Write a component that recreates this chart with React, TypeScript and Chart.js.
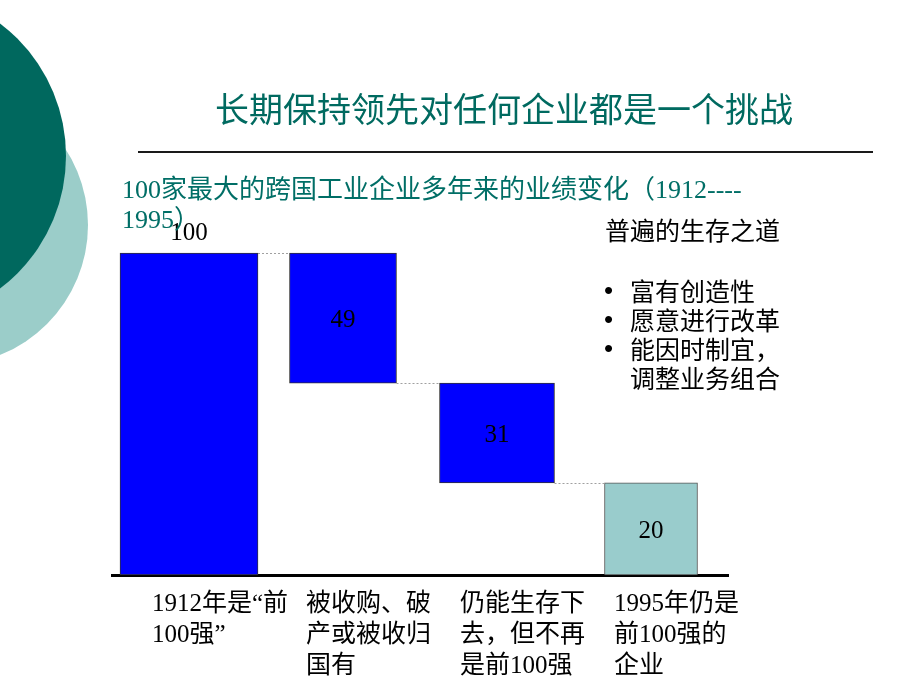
import React, { useEffect, useRef } from 'react';
import { Chart, registerables } from 'chart.js';

Chart.register(...registerables);

// ---- data ----
const categories: string[][] = [
  ['1912年是“前', '100强”'],
  ['被收购、破', '产或被收归', '国有'],
  ['仍能生存下', '去，但不再', '是前100强'],
  ['1995年仍是', '前100强的', '企业'],
];
const valueLabels = ['100', '49', '31', '20'];
const barStarts = [0, 59.6, 28.6, 0];
const barEnds = [100, 100, 59.6, 28.6];
const sideHeading = '普遍的生存之道';
const sideBullets: string[][] = [['富有创造性'], ['愿意进行改革'], ['能因时制宜，', '调整业务组合']];
const titleText = '长期保持领先对任何企业都是一个挑战';
const subtitleLines = ['100家最大的跨国工业企业多年来的业绩变化（1912----', '1995）'];

// ---- styles ----
const barFills = ['#0000FF', '#0000FF', '#0000FF', '#99CCCC'];
const barBorders = ['#333333', '#333333', '#333333', '#555555'];
const barThick = [138, 107, 115, 93];
const SERIF = "'Liberation Serif', 'Noto Sans CJK SC', serif";
const SANS = "'Noto Sans CJK SC', sans-serif";

const waterfallPlugin = {
  id: 'waterfallDecor',
  afterDatasetsDraw(chart: any) {
    const ctx = chart.ctx;
    const bars = chart.data.datasets.map((_: any, i: number) => chart.getDatasetMeta(i).data[i]);
    ctx.save();
    // dotted connectors
    ctx.strokeStyle = '#a0a0a0';
    ctx.lineWidth = 1;
    ctx.setLineDash([2, 2]);
    for (let i = 0; i < bars.length - 1; i++) {
      const a = bars[i].getProps(['x', 'y', 'base', 'width'], true);
      const b = bars[i + 1].getProps(['x', 'y', 'base', 'width'], true);
      const y = Math.round(Math.min(b.y, b.base)) + 0.5;
      ctx.beginPath();
      ctx.moveTo(a.x + a.width / 2, y);
      ctx.lineTo(b.x - b.width / 2, y);
      ctx.stroke();
    }
    ctx.setLineDash([]);
    // value labels
    ctx.fillStyle = '#000';
    ctx.font = `25px ${SERIF}`;
    ctx.textAlign = 'center';
    ctx.textBaseline = 'middle';
    bars.forEach((bar: any, i: number) => {
      const p = bar.getProps(['x', 'y', 'base'], true);
      const top = Math.min(p.y, p.base);
      const bottom = Math.max(p.y, p.base);
      const y = i === 0 ? top - 20 : (top + bottom) / 2 + 2;
      ctx.fillText(valueLabels[i], p.x, y);
    });
    ctx.restore();
  },
};

export default function App() {
  const canvasRef = useRef<HTMLCanvasElement | null>(null);

  useEffect(() => {
    if (!canvasRef.current) return;
    const chart = new Chart(canvasRef.current, {
      type: 'bar',
      data: {
        labels: categories,
        datasets: categories.map((_, i) => ({
          label: valueLabels[i],
          data: categories.map((__, j) => (j === i ? [barStarts[i], barEnds[i]] : null)),
          backgroundColor: barFills[i],
          borderColor: barBorders[i],
          borderWidth: 1,
          borderSkipped: false,
          barThickness: barThick[i],
          grouped: false,
          clip: false,
        })) as any,
      },
      options: {
        responsive: false,
        animation: false,
        layout: { padding: { left: 112, right: 192, top: 253, bottom: 0 } },
        plugins: {
          legend: { display: false },
          tooltip: { enabled: false },
          title: { display: false },
        },
        scales: {
          x: {
            z: 1,
            grid: { display: false, drawTicks: false },
            border: { display: true, color: '#000', width: 3 },
            ticks: {
              color: '#000',
              align: 'start',
              labelOffset: -37,
              padding: 14,
              autoSkip: false,
              maxRotation: 0,
              minRotation: 0,
              font: { family: SERIF, size: 25, lineHeight: 1.24 },
            },
            afterFit: (scale: any) => {
              scale.height = 115;
            },
          },
          y: {
            display: false,
            min: 0,
            max: 100,
          },
        },
      } as any,
      plugins: [waterfallPlugin],
    });
    return () => chart.destroy();
  }, []);

  return (
    <div
      style={{
        position: 'fixed',
        left: 0,
        top: 0,
        width: 920,
        height: 690,
        overflow: 'hidden',
        background: '#ffffff',
      }}
    >
      <div
        style={{
          position: 'absolute',
          left: -52 - 140,
          top: 225 - 140,
          width: 280,
          height: 280,
          borderRadius: '50%',
          background: '#9BCDC9',
        }}
      />
      <div
        style={{
          position: 'absolute',
          left: -100 - 166,
          top: 156 - 166,
          width: 332,
          height: 332,
          borderRadius: '50%',
          background: '#00685E',
        }}
      />
      <canvas
        ref={canvasRef}
        width={920}
        height={690}
        style={{ position: 'absolute', left: 0, top: 0, width: 920, height: 690 }}
      />
      <div
        style={{
          position: 'absolute',
          left: 215,
          top: 91,
          fontFamily: SANS,
          fontSize: 34,
          lineHeight: '34px',
          color: '#006A60',
          whiteSpace: 'nowrap',
        }}
      >
        {titleText}
      </div>
      <div
        style={{
          position: 'absolute',
          left: 138,
          top: 151,
          width: 735,
          height: 2,
          background: '#1a1a1a',
        }}
      />
      <div
        style={{
          position: 'absolute',
          left: 122,
          top: 175,
          fontFamily: SERIF,
          fontSize: 26,
          lineHeight: '30px',
          color: '#006E66',
          whiteSpace: 'nowrap',
        }}
      >
        {subtitleLines.map((l, i) => (
          <div key={i}>{l}</div>
        ))}
      </div>
      <div
        style={{
          position: 'absolute',
          left: 605,
          top: 215,
          fontFamily: SANS,
          fontSize: 25,
          lineHeight: '29px',
          color: '#000',
          whiteSpace: 'nowrap',
        }}
      >
        {sideHeading}
      </div>
      <div
        style={{
          position: 'absolute',
          left: 604,
          top: 276,
          fontFamily: SANS,
          fontSize: 25,
          lineHeight: '29px',
          color: '#000',
          whiteSpace: 'nowrap',
        }}
      >
        {sideBullets.map((lines, i) => (
          <div key={i} style={{ display: 'flex' }}>
            <div style={{ width: 26, fontFamily: "'Liberation Sans', sans-serif", fontSize: 26 }}>•</div>
            <div>
              {lines.map((l, k) => (
                <div key={k}>{l}</div>
              ))}
            </div>
          </div>
        ))}
      </div>
    </div>
  );
}
